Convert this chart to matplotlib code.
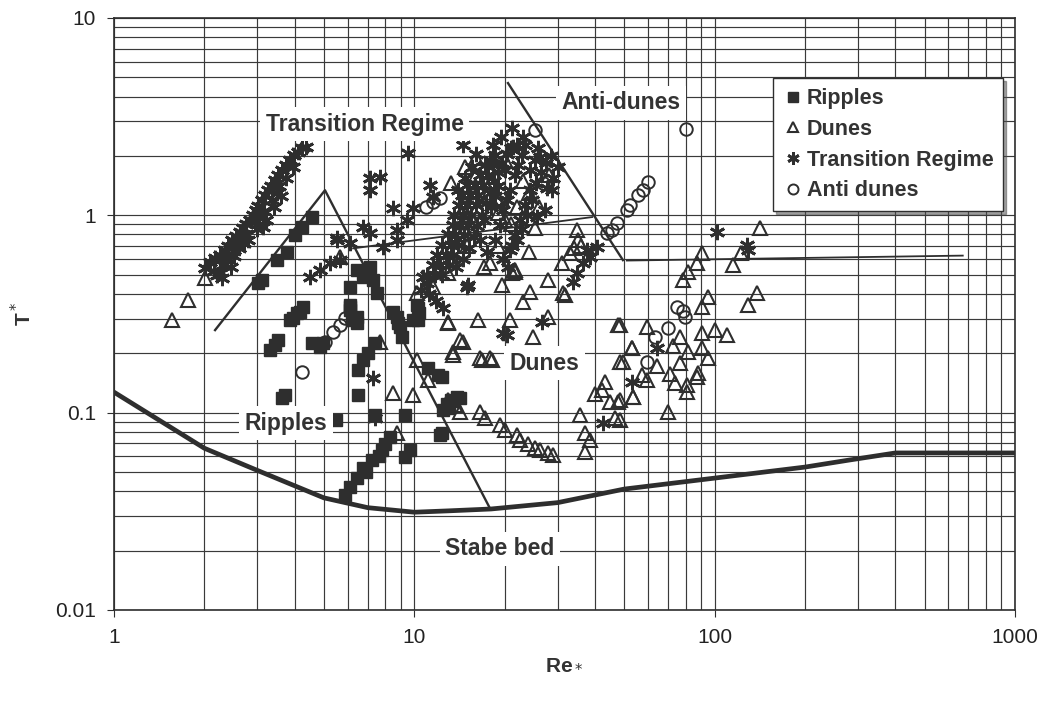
import matplotlib
matplotlib.use("Agg")
import matplotlib.pyplot as plt
from matplotlib.ticker import FixedLocator, LogLocator, NullFormatter

plt.rcParams['font.family'] = ['Liberation Sans', 'DejaVu Sans']

# ---- data (Re*, T*) ----
ripples_re = [3.02, 3.11, 3.49, 3.77, 4.01, 4.23, 4.56, 3.86, 4.07, 4.26,
              3.44, 3.31, 3.52, 3.71, 3.63, 3.95, 4.16, 4.56, 4.85, 4.97,
              6.11, 6.20, 6.45, 6.49, 6.49, 6.75, 7.01, 7.40, 8.49, 8.83,
              9.10, 10.3, 10.3, 11.1, 12.0, 7.40, 9.31, 8.30, 7.81, 7.23,
              6.75, 6.45, 5.88, 9.31, 9.68, 12.2, 12.5, 13.2, 13.9, 5.49,
              12.4, 12.4, 6.45, 6.75, 7.12, 7.29, 6.11, 7.51, 6.11, 6.45,
              8.76, 8.96, 10.2, 10.4, 9.90, 6.11, 6.1, 6.9, 7.6, 8.0,
              12.8, 13.5, 14.2, 13.0]
ripples_t = [0.454, 0.47, 0.593, 0.652, 0.795, 0.873, 0.98, 0.294, 0.32, 0.343,
             0.22, 0.208, 0.233, 0.123, 0.119, 0.302, 0.324, 0.225, 0.215, 0.225,
             0.331, 0.294, 0.284, 0.123, 0.164, 0.185, 0.2, 0.225, 0.324, 0.284,
             0.242, 0.339, 0.294, 0.168, 0.155, 0.0972, 0.0972, 0.0752, 0.0646, 0.0575,
             0.0524, 0.0466, 0.0382, 0.0596, 0.0646, 0.077, 0.103, 0.116, 0.12, 0.0917,
             0.152, 0.0788, 0.528, 0.487, 0.547, 0.47, 0.433, 0.404, 0.351, 0.305,
             0.305, 0.272, 0.351, 0.32, 0.294, 0.343, 0.042, 0.05, 0.06, 0.069,
             0.11, 0.115, 0.118, 0.105]

dunes_re = [1.56, 1.76, 2.01, 7.69, 12.9, 13.5, 10.2, 11.1, 8.49, 9.90,
            8.76, 14.8, 18.9, 19.0, 12.9, 16.3, 20.8, 19.6, 21.6, 23.0,
            5.66, 10.2, 11.5, 13.2, 142, 90.8, 87.4, 81.5, 78.5, 122,
            115, 138, 129, 95.1, 90.8, 48.4, 59.6, 76.7, 90.8, 100,
            110, 53.1, 72.7, 81.5, 90.8, 95.1, 49.5, 64.3, 76.7, 71.0,
            73.8, 88.1, 87.4, 80.9, 80.9, 59.6, 57.3, 53.5, 70.0, 48.4,
            48.4, 21.6, 27.9, 31.3, 24.3, 12.9, 24.9, 27.9, 14.2, 13.5,
            16.6, 17.9, 47.7, 53.1, 48.4, 43.2, 35.6, 44.8, 47.7, 46.6,
            53.5, 37.0, 38.5, 37.0, 12.9, 13.7, 14.2, 16.6, 17.2, 19.3,
            20.0, 22.0, 22.5, 23.9, 25.2, 26.2, 27.9, 29.0, 34.8, 35.1,
            33.0, 31.0, 31.8, 21.2, 19.0, 25.2, 17.9, 14.5, 16.8, 18.1,
            36.0, 34.0, 40.0, 42.0, 16.0, 17.5, 15.5, 14.0, 22.0, 24.0, 20.0,
            15.0, 17.0, 19.0, 21.0, 18.0, 23.0, 26.0, 24.0, 13.5, 16.0, 28.0, 20.0]
dunes_t = [0.294, 0.372, 0.481, 0.228, 0.284, 0.203, 0.185, 0.146, 0.126, 0.123,
           0.0788, 1.76, 1.20, 1.03, 0.51, 0.294, 0.294, 0.443, 0.516, 0.364,
           0.615, 0.404, 0.433, 1.46, 0.862, 0.644, 0.573, 0.516, 0.47, 0.644,
           0.56, 0.404, 0.351, 0.385, 0.343, 0.278, 0.272, 0.242, 0.253, 0.262,
           0.247, 0.213, 0.218, 0.203, 0.213, 0.189, 0.181, 0.172, 0.178, 0.157,
           0.141, 0.159, 0.152, 0.138, 0.127, 0.146, 0.155, 0.12, 0.101, 0.116,
           0.0917, 0.528, 0.47, 0.404, 0.409, 0.288, 0.242, 0.305, 0.233, 0.196,
           0.189, 0.189, 0.278, 0.213, 0.181, 0.143, 0.0972, 0.113, 0.113, 0.0939,
           0.12, 0.0788, 0.0726, 0.0631, 0.116, 0.109, 0.101, 0.101, 0.0939, 0.0865,
           0.0816, 0.077, 0.0726, 0.0693, 0.0662, 0.0646, 0.0624, 0.061, 0.842, 0.75,
           0.644, 0.573, 0.395, 0.51, 1.22, 0.862, 0.573, 0.228, 0.185, 0.185,
           0.70, 0.68, 0.125, 0.13, 1.6, 1.25, 0.95, 0.8, 1.1, 1.3, 0.95,
           0.7, 0.55, 0.7, 0.9, 1.5, 1.5, 1.1, 0.65, 0.6, 1.95, 1.6, 1.9]

trans_re = [2.01, 2.09, 2.17, 2.25, 2.34, 2.40, 2.47, 2.55, 2.63, 2.69,
            2.75, 2.84, 2.90, 2.97, 3.02, 3.11, 3.18, 3.26, 3.33, 3.44,
            3.52, 3.63, 3.74, 3.86, 3.98, 4.10, 4.23, 4.36, 2.3, 2.5,
            2.6, 2.8, 3.0, 3.2, 3.4, 3.6, 2.2, 2.45, 2.29, 2.25,
            3.13, 4.49, 4.85, 5.24, 5.53, 5.66, 6.11, 9.53, 14.5, 21.2,
            7.12, 7.69, 7.12, 8.49, 9.90, 11.3, 11.5, 6.75, 7.12, 5.53,
            7.87, 8.76, 9.46, 8.76, 10.7, 11.0, 15.0, 19.7, 7.29, 7.40,
            21.3, 25.8, 26.2, 30.1, 29.0, 28.8, 27.2, 25.6, 18.3, 22.0,
            27.7, 37.6, 38.5, 36.5, 34.8, 33.8, 40.6, 15.1, 20.4, 26.6,
            42.5, 53.1, 102, 128, 129, 64.3,
            11.7, 12.2, 12.7, 13.2, 13.7, 14.2, 14.5, 15.0, 15.3, 15.9,
            16.6, 17.2, 17.9, 18.6, 12.4, 13.0, 13.5, 14.0, 14.6, 15.1,
            15.4, 16.0, 16.3, 16.9, 17.6, 18.3, 11.0, 11.5, 11.9, 12.4,
            12.9, 13.4, 13.6, 14.1, 14.4, 15.0, 18.6, 19.3, 19.7, 20.4,
            20.8, 21.6, 22.1, 22.8, 23.4, 20.8, 21.6, 22.5, 23.4, 24.3,
            24.3, 25.2, 17.0, 18.0, 19.0, 20.0, 18.5, 16.5, 17.5, 10.5,
            11.2, 11.8, 12.5,
            13.8, 14.5, 15.2, 15.8, 16.2, 16.8, 17.3, 17.8, 18.4, 19.0,
            19.6, 20.3, 21.0, 19.8, 20.5, 21.2, 22.0, 22.8, 23.8, 24.6,
            25.5, 26.5, 27.5, 28.5, 23.0, 19.5, 16.0, 15.5, 14.8, 14.0,
            2.15, 2.35, 2.55, 2.75, 2.95, 3.15, 3.35, 3.55, 3.75, 3.95,
            2.4, 2.7, 3.05, 3.5]
trans_t = [0.541, 0.58, 0.608, 0.63, 0.667, 0.699, 0.75, 0.785, 0.823, 0.862,
           0.903, 0.947, 1.00, 1.06, 1.11, 1.20, 1.27, 1.34, 1.41, 1.51,
           1.60, 1.70, 1.80, 1.91, 2.02, 2.09, 2.19, 2.22, 0.56, 0.62,
           0.68, 0.75, 0.85, 0.95, 1.1, 1.25, 0.5, 0.55, 0.48, 0.516,
           0.873, 0.487, 0.528, 0.573, 0.75, 0.593, 0.724, 2.07, 2.27, 2.77,
           1.55, 1.57, 1.34, 1.09, 1.09, 1.42, 1.24, 0.873, 0.813, 0.77,
           0.691, 0.842, 0.947, 0.75, 0.487, 0.454, 0.433, 0.253, 0.15, 0.094,
           2.22, 2.19, 1.98, 1.76, 1.55, 1.34, 1.06, 0.98, 2.27, 2.27,
           1.37, 0.667, 0.615, 0.573, 0.51, 0.459, 0.691, 0.443, 0.247, 0.288,
           0.0886, 0.143, 0.823, 0.707, 0.667, 0.213,
           0.498, 0.56, 0.63, 0.707, 0.795, 0.893, 1.00, 1.13, 1.27, 1.42,
           1.60, 1.80, 1.91, 2.02, 0.5, 0.56, 0.63, 0.707, 0.795, 0.893,
           1.0, 1.13, 1.27, 1.42, 1.6, 1.8, 0.5, 0.56, 0.63, 0.71,
           0.8, 0.89, 1.0, 1.13, 1.27, 1.42, 0.75, 0.893, 1.06, 1.20,
           1.34, 1.60, 1.80, 2.02, 2.27, 0.667, 0.795, 0.947, 1.13, 1.34,
           1.70, 1.91, 0.95, 1.1, 1.4, 1.7, 1.25, 0.75, 0.65, 0.42,
           0.40, 0.37, 0.34,
           0.55, 0.6, 0.68, 0.78, 0.88, 1.0, 1.15, 1.3, 1.5, 1.65,
           1.85, 2.05, 2.2, 0.6, 0.55, 0.7, 0.75, 0.85, 1.0, 1.2,
           1.45, 1.65, 1.85, 2.0, 2.5, 2.5, 2.05, 1.75, 1.55, 1.35,
           0.52, 0.6, 0.7, 0.8, 0.92, 1.05, 1.2, 1.4, 1.55, 1.75,
           0.64, 0.72, 0.98, 1.3]

anti_re = [4.23, 5.04, 5.36, 5.66, 5.88, 10.9, 11.5, 12.2, 25.2, 26.8,
           43.8, 45.5, 47.3, 51.1, 52.3, 55.6, 57.8, 60.0, 80.3, 75.0,
           78.5, 79.7, 70.0, 63.3, 59.6]
anti_t = [0.161, 0.228, 0.256, 0.278, 0.302, 1.10, 1.17, 1.22, 2.71, 1.46,
          0.813, 0.842, 0.914, 1.06, 1.13, 1.27, 1.34, 1.48, 2.74, 0.343,
          0.327, 0.305, 0.267, 0.242, 0.181]

# threshold (stable bed) curve
crit_re = [1, 2, 3, 5, 7, 10, 13, 18, 30, 50, 100, 200, 280, 400, 1000]
crit_t = [0.127, 0.066, 0.051, 0.037, 0.033, 0.0313, 0.0318, 0.0325, 0.035,
          0.041, 0.0466, 0.053, 0.0575, 0.0625, 0.0625]

# regime boundaries
rip_re = [2.17, 5.04, 17.9]
rip_t = [0.262, 1.34, 0.0325]
trans_bd_re = [6.25, 39.1]
trans_bd_t = [0.68, 0.98]
anti_bd_re = [20.5, 49.5]
anti_bd_t = [4.68, 0.593]
upper_re = [51.0, 670.0]
upper_t = [0.59, 0.625]

ink = '#2e2e2e'

fig = plt.figure(figsize=(10.48, 7.03), dpi=100)
ax = fig.add_axes([0.1088, 0.1323, 0.8597, 0.8421])
ax.set_xscale('log')
ax.set_yscale('log')
ax.set_xlim(1, 1000)
ax.set_ylim(0.01, 10)

ax.grid(True, which='both', color='#3a3a3a', linewidth=0.85)
ax.set_axisbelow(True)

ax.plot(crit_re, crit_t, color=ink, linewidth=3.4, zorder=3)
ax.plot(rip_re, rip_t, color=ink, linewidth=1.7, zorder=3)
ax.plot(trans_bd_re, trans_bd_t, color=ink, linewidth=1.3, zorder=3)
ax.plot(anti_bd_re, anti_bd_t, color=ink, linewidth=1.7, zorder=3)
ax.plot(upper_re, upper_t, color=ink, linewidth=1.3, zorder=3)

ax.plot(ripples_re, ripples_t, linestyle='none', marker='s', markersize=9,
        color=ink, markeredgecolor=ink, label='Ripples', zorder=4)
ax.plot(dunes_re, dunes_t, linestyle='none', marker='^', markersize=9.5,
        markerfacecolor='none', markeredgecolor=ink, markeredgewidth=1.5,
        label='Dunes', zorder=4)
ax.plot(trans_re, trans_t, linestyle='none', marker=(6, 2, 0), markersize=11,
        color=ink, markeredgewidth=2.0, label='Transition Regime', zorder=4)
ax.plot(anti_re, anti_t, linestyle='none', marker='o', markersize=9,
        markerfacecolor='none', markeredgecolor=ink, markeredgewidth=1.4,
        label='Anti dunes', zorder=4)

box = dict(facecolor='white', edgecolor='none', pad=4)
lab = dict(fontsize=16.5, fontweight='bold', color='#333333', ha='center',
           va='center', bbox=box, zorder=5)
ax.text(6.85, 2.9, 'Transition Regime', **lab)
ax.text(48.8, 3.71, 'Anti-dunes', **lab)
ax.text(27.2, 0.178, 'Dunes', **lab)
ax.text(3.74, 0.0886, 'Ripples', **lab)
ax.text(19.3, 0.0204, 'Stabe bed', **lab)

ax.xaxis.set_major_locator(FixedLocator([1, 10, 100, 1000]))
ax.yaxis.set_major_locator(FixedLocator([0.01, 0.1, 1, 10]))
ax.xaxis.set_minor_locator(LogLocator(base=10, subs=range(2, 10)))
ax.yaxis.set_minor_locator(LogLocator(base=10, subs=range(2, 10)))
ax.xaxis.set_minor_formatter(NullFormatter())
ax.yaxis.set_minor_formatter(NullFormatter())
ax.set_xticklabels(['1', '10', '100', '1000'])
ax.set_yticklabels(['0.01', '0.1', '1', '10'])
ax.tick_params(which='major', labelsize=15, length=5, color=ink,
               labelcolor='#222222', pad=8)
ax.tick_params(which='minor', length=0)
for s in ax.spines.values():
    s.set_color(ink)
    s.set_linewidth(1.2)

ax.set_xlabel('Re$_*$', fontsize=15, fontweight='bold', color='#333333', labelpad=5)
ax.set_ylabel('T$^*$', fontsize=15, fontweight='bold', color='#333333', labelpad=14)

leg = ax.legend(loc='upper left', bbox_to_anchor=(0.72, 0.916), frameon=True,
                fancybox=False, shadow=True, edgecolor=ink, framealpha=1,
                prop={'size': 15.5, 'weight': 'bold'}, handletextpad=0.2,
                handlelength=0.9, labelspacing=0.45, borderpad=0.45,
                markerscale=0.8)
for t in leg.get_texts():
    t.set_color('#333333')
leg.set_zorder(6)

fig.savefig('out.png', dpi=100)
